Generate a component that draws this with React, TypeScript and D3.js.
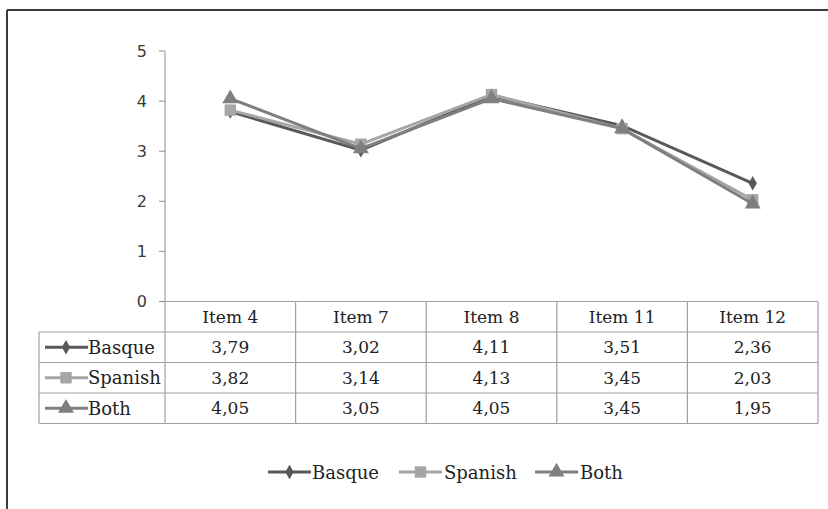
import React from "react";
import * as d3 from "d3";

const categories = ["Item 4", "Item 7", "Item 8", "Item 11", "Item 12"];
const seriesNames = ["Basque", "Spanish", "Both"];
const basque = [3.79, 3.02, 4.11, 3.51, 2.36];
const spanish = [3.82, 3.14, 4.13, 3.45, 2.03];
const both = [4.05, 3.05, 4.05, 3.45, 1.95];
const yTicks = [0, 1, 2, 3, 4, 5];

const seriesValues = [basque, spanish, both];
const colors = ["#595959", "#a6a6a6", "#7f7f7f"];
const symbols = [d3.symbolDiamond, d3.symbolSquare, d3.symbolTriangle];
const symSizes = [60, 130, 110];

const W = 828, H = 509;
const plotLeft = 165, plotRight = 818;
const yTop = 51, yBottom = 301.5;
const rowH = 30.5;
const legendColLeft = 39;
const serif = "DejaVu Serif";
const sans = "DejaVu Sans";
const fmt = (v: number) => v.toFixed(2).replace(".", ",");

export default function App() {
  const x = d3.scaleBand<string>().domain(categories).range([plotLeft, plotRight]);
  const y = d3.scaleLinear().domain([0, 5]).range([yBottom, yTop]);
  const line = d3
    .line<number>()
    .x((_, i) => (x(categories[i]) as number) + x.bandwidth() / 2)
    .y((d) => y(d));

  const sym = (i: number) => d3.symbol().type(symbols[i]).size(symSizes[i])() as string;
  const tableTop = yBottom;
  const tableBottom = tableTop + rowH * 4;
  const gridColor = "#a0a0a0";

  const legendItems = [
    { x0: 268, tx: 312 },
    { x0: 399, tx: 444 },
    { x0: 535, tx: 580 },
  ];

  return (
    <svg
      width={W}
      height={H}
      style={{ position: "absolute", left: 0, top: 0, background: "#fff" }}
    >
      {/* outer border (top & left) */}
      <line x1={7} y1={10} x2={W} y2={10} stroke="#3c3c3c" strokeWidth={2} />
      <line x1={7} y1={10} x2={7} y2={H} stroke="#3c3c3c" strokeWidth={2} />

      {/* y axis */}
      <line x1={plotLeft} y1={yTop} x2={plotLeft} y2={yBottom} stroke="#8c8c8c" strokeWidth={1} />
      {yTicks.map((t) => (
        <g key={t}>
          <line x1={plotLeft - 6} x2={plotLeft} y1={y(t)} y2={y(t)} stroke="#8c8c8c" />
          <text
            x={147}
            y={y(t)}
            textAnchor="end"
            dominantBaseline="central"
            fontFamily={sans}
            fontSize={16}
            fill="#3a3a3a"
          >
            {t}
          </text>
        </g>
      ))}

      {/* table grid */}
      <g stroke={gridColor} strokeWidth={1.2} fill="none">
        <line x1={plotLeft} y1={tableTop} x2={plotRight} y2={tableTop} />
        {[1, 2, 3, 4].map((r) => (
          <line
            key={r}
            x1={legendColLeft}
            x2={plotRight}
            y1={tableTop + rowH * r}
            y2={tableTop + rowH * r}
          />
        ))}
        <line x1={legendColLeft} x2={legendColLeft} y1={tableTop + rowH} y2={tableBottom} />
        {categories.map((c) => (
          <line key={c} x1={x(c)} x2={x(c)} y1={tableTop} y2={tableBottom} />
        ))}
        <line x1={plotRight} x2={plotRight} y1={tableTop} y2={tableBottom} />
      </g>

      {/* header labels */}
      {categories.map((c) => (
        <text
          key={c}
          x={(x(c) as number) + x.bandwidth() / 2}
          y={tableTop + rowH / 2}
          textAnchor="middle"
          dominantBaseline="central"
          fontFamily={serif}
          fontSize={17}
          fill="#222"
        >
          {c}
        </text>
      ))}

      {/* data rows */}
      {seriesNames.map((name, si) => {
        const cy = tableTop + rowH * (si + 1) + rowH / 2;
        return (
          <g key={name}>
            <line x1={45} x2={88} y1={cy} y2={cy} stroke={colors[si]} strokeWidth={3} />
            <path d={sym(si)} transform={`translate(66,${cy})`} fill={colors[si]} />
            <text
              x={88}
              y={cy}
              dominantBaseline="central"
              fontFamily={serif}
              fontSize={18}
              fill="#222"
            >
              {name}
            </text>
            {seriesValues[si].map((v, i) => (
              <text
                key={i}
                x={(x(categories[i]) as number) + x.bandwidth() / 2}
                y={cy}
                textAnchor="middle"
                dominantBaseline="central"
                fontFamily={serif}
                fontSize={17}
                fill="#222"
              >
                {fmt(v)}
              </text>
            ))}
          </g>
        );
      })}

      {/* lines */}
      {seriesValues.map((vals, si) => (
        <g key={si}>
          <path d={line(vals) as string} fill="none" stroke={colors[si]} strokeWidth={3} />
          {vals.map((v, i) => (
            <path
              key={i}
              d={sym(si)}
              transform={`translate(${(x(categories[i]) as number) + x.bandwidth() / 2},${y(v)})`}
              fill={colors[si]}
            />
          ))}
        </g>
      ))}

      {/* legend */}
      {seriesNames.map((name, si) => {
        const it = legendItems[si];
        const cy = 472;
        return (
          <g key={name}>
            <line x1={it.x0} x2={it.x0 + 43} y1={cy} y2={cy} stroke={colors[si]} strokeWidth={3} />
            <path d={sym(si)} transform={`translate(${it.x0 + 21.5},${cy})`} fill={colors[si]} />
            <text
              x={it.tx}
              y={cy}
              dominantBaseline="central"
              fontFamily={serif}
              fontSize={18}
              fill="#222"
            >
              {name}
            </text>
          </g>
        );
      })}
    </svg>
  );
}
